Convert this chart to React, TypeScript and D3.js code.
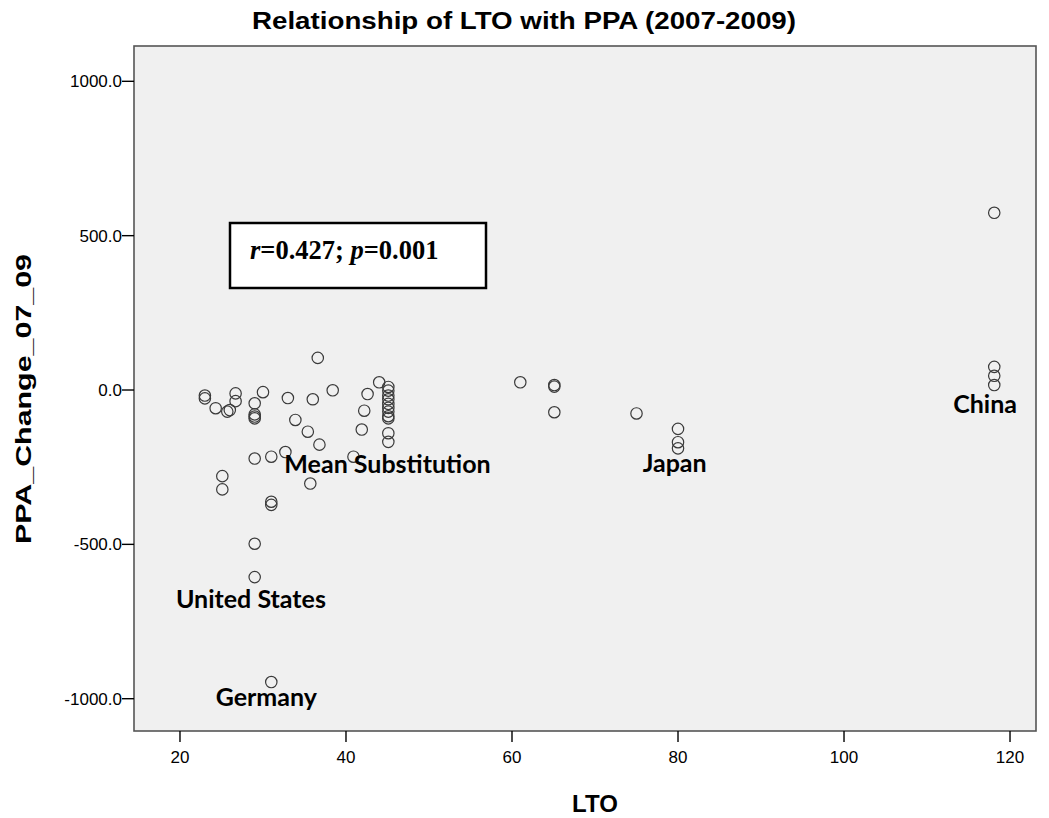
import React from "react";
import * as d3 from "d3";

const ltoValues = [
  36.6, 23.0, 23.0, 24.3, 25.7, 26.0, 26.7, 26.7, 30.0, 29.0, 29.0, 29.0, 29.0,
  33.0, 36.0, 38.4, 42.6, 42.2, 41.9, 44.0, 33.9, 35.4, 36.8, 29.0, 31.0, 32.7,
  40.9, 25.1, 25.1, 35.7, 31.0, 31.0, 29.0, 29.0, 31.0,
  45.1, 45.1, 45.1, 45.1, 45.1, 45.1, 45.1, 45.1, 45.1, 45.1, 45.1,
  61.0, 65.1, 65.1, 65.1, 75.0, 80.0, 80.0, 80.0,
  118.1, 118.1, 118.1, 118.1,
];
const ppaValues = [
  104, -18, -27, -59, -70, -65, -11, -36, -7, -43, -79, -86, -92,
  -26, -30, -1, -13, -67, -128, 25, -97, -135, -177, -222, -216, -201,
  -216, -279, -322, -303, -362, -372, -498, -606, -946,
  10, -2, -18, -30, -45, -58, -70, -85, -92, -140, -168,
  25, 16, 11, -72, -76, -126, -169, -189,
  574, 75, 46, 16,
];

const xTicks = [20, 40, 60, 80, 100, 120];
const yTicks = [1000, 500, 0, -500, -1000];

const labelTexts = ["Mean Substitution", "Japan", "China", "United States", "Germany"];
const labelLTO = [45.0, 79.6, 117.0, 28.55, 30.4];
const labelPPA = [-268, -265, -73, -705, -1025];

const W = 1049;
const H = 818;
const left = 134;
const top = 46;
const right = 1036;
const bottom = 731;

const fmt = (v: number) => d3.format(".1f")(v).replace("\u2212", "-");

export default function App() {
  const x = d3.scaleLinear().domain([14.46, 123.13]).range([left, right]);
  const y = d3.scaleLinear().domain([-1104.6, 1114.4]).range([bottom, top]);
  const sans = "'Liberation Sans', Arial, sans-serif";
  const lab = "Lato, 'Open Sans', sans-serif";
  return (
    <svg width={W} height={H} style={{ position: "absolute", left: 0, top: 0, background: "#fff" }}>
      <text x={524} y={29} textAnchor="middle" fontFamily={sans} fontWeight="bold" fontSize={23} fill="#000"
        textLength={544} lengthAdjust="spacingAndGlyphs">
        Relationship of LTO with PPA (2007-2009)
      </text>
      <rect x={left} y={top} width={right - left} height={bottom - top} fill="#f0f0f0" stroke="#555" strokeWidth={1.6} />
      {yTicks.map((t) => (
        <g key={"y" + t}>
          <line x1={left - 12} x2={left} y1={y(t)} y2={y(t)} stroke="#000" strokeWidth={1.4} />
          <text x={left - 12} y={y(t) + 6} textAnchor="end" fontFamily={sans} fontSize={17} fill="#000">
            {fmt(t)}
          </text>
        </g>
      ))}
      {xTicks.map((t) => (
        <g key={"x" + t}>
          <line x1={x(t)} x2={x(t)} y1={bottom} y2={bottom + 11} stroke="#000" strokeWidth={1.4} />
          <text x={x(t)} y={763} textAnchor="middle" fontFamily={sans} fontSize={17} fill="#000">
            {t}
          </text>
        </g>
      ))}
      <text x={595} y={812} textAnchor="middle" fontFamily={sans} fontWeight="bold" fontSize={24} fill="#000">
        LTO
      </text>
      <text
        transform={`translate(31, 399) rotate(-90)`}
        textAnchor="middle"
        fontFamily={sans}
        fontWeight="bold"
        fontSize={22}
        fill="#000"
        textLength={290}
        lengthAdjust="spacingAndGlyphs"
      >
        PPA_Change_07_09
      </text>
      {ltoValues.map((v, i) => (
        <circle key={"p" + i} cx={x(v)} cy={y(ppaValues[i])} r={5.7} fill="none" stroke="#3a3a3a" strokeWidth={1.2} />
      ))}
      {labelTexts.map((t, i) => (
        <text key={"l" + i} x={x(labelLTO[i])} y={y(labelPPA[i])} textAnchor="middle" fontFamily={lab} fontWeight="bold" fontSize={25} fill="#000">
          {t}
        </text>
      ))}
      <rect x={230} y={223} width={256} height={65} fill="#fff" stroke="#000" strokeWidth={2.5} />
      <text x={250} y={259} fontFamily="'Liberation Serif', 'Times New Roman', serif" fontWeight="bold" fontSize={26.5} fill="#000">
        <tspan fontStyle="italic">r</tspan>
        <tspan>=0.427; </tspan>
        <tspan fontStyle="italic">p</tspan>
        <tspan>=0.001</tspan>
      </text>
    </svg>
  );
}
